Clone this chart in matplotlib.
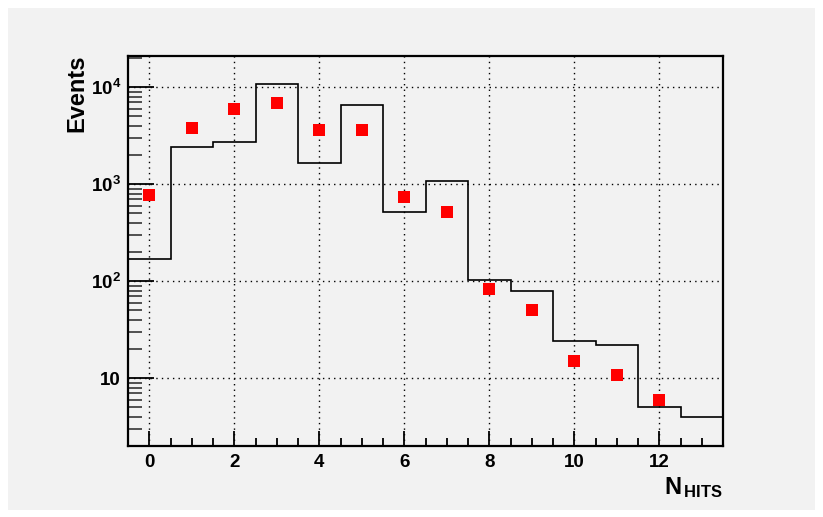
import numpy as np
import matplotlib.pyplot as plt
from matplotlib.patches import Rectangle
from matplotlib.ticker import FixedLocator, LogLocator, NullFormatter

plt.rcParams['font.family'] = ['Liberation Sans', 'DejaVu Sans']
plt.rcParams['font.weight'] = 'bold'
plt.rcParams['mathtext.fontset'] = 'custom'
plt.rcParams['mathtext.rm'] = 'Liberation Sans:bold'
plt.rcParams['mathtext.bf'] = 'Liberation Sans:bold'
plt.rcParams['mathtext.it'] = 'Liberation Sans:bold'

# simulated hit multiplicity (histogram, one bin per N_hits)
nhits = np.arange(0, 14)
mc_counts = [170, 2430, 2710, 10800, 1660, 6520, 514, 1090, 104, 80, 24, 22, 5, 4]

# measured events
data_nhits = np.arange(0, 13)
data_counts = [771, 3840, 6030, 6950, 3600, 3630, 747, 522, 83, 50.6, 15, 10.9, 5.9]

bg = '#f2f2f2'
fig = plt.figure(figsize=(8.23, 5.17), dpi=100, facecolor='white')
fig.patches.append(Rectangle((8 / 823, 7 / 517), 807 / 823, 502 / 517,
                             transform=fig.transFigure, facecolor=bg,
                             edgecolor='none', zorder=-10))
ax = fig.add_axes([128 / 823, 1 - 446 / 517, 595 / 823, 390 / 517])
ax.set_facecolor(bg)

edges = np.append(nhits - 0.5, nhits[-1] + 0.5)
ax.stairs(mc_counts, edges, color='black', linewidth=1.2, baseline=None)
ax.plot(data_nhits, data_counts, 's', color='#ff0000', markersize=8,
        markeredgewidth=0, zorder=5)

ax.set_yscale('log')
ax.set_xlim(-0.5, 13.5)
ax.set_ylim(2.0, 2.1e4)

ax.xaxis.set_major_locator(FixedLocator([0, 2, 4, 6, 8, 10, 12]))
ax.xaxis.set_minor_locator(FixedLocator(np.arange(0.5, 13.5, 0.5)))
ax.yaxis.set_major_locator(FixedLocator([10, 100, 1000, 10000]))
ax.yaxis.set_minor_locator(LogLocator(base=10, subs=np.arange(2, 10)))
ax.yaxis.set_minor_formatter(NullFormatter())
ax.set_yticklabels(['10', r'$10^{2}$', r'$10^{3}$', r'$10^{4}$'])

ax.tick_params(axis='both', which='both', direction='in', top=False,
               right=False, labelsize=13.5, colors='black', width=1.3)
ax.tick_params(axis='y', which='major', length=19, pad=5)
ax.tick_params(axis='y', which='minor', length=10, color='#444444')
ax.tick_params(axis='x', which='major', length=11, pad=6)
ax.tick_params(axis='x', which='minor', length=6)

ax.grid(True, which='major', color='black', linestyle=(0, (1, 3)),
        linewidth=1.0)

for side in ax.spines.values():
    side.set_linewidth(1.6)
    side.set_color('black')

ax.set_ylabel('Events', fontsize=17, fontweight='bold')
ax.yaxis.set_label_coords(-0.066, 1.005)
ax.yaxis.label.set_horizontalalignment('right')

ax.text(1.0, -0.075, r'$N_{\,HITS}$', transform=ax.transAxes, fontsize=17,
        ha='right', va='top')

fig.savefig('out.png', dpi=100, facecolor='white')
